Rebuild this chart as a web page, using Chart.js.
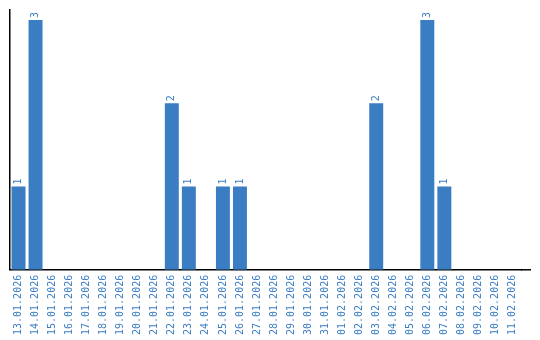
<!DOCTYPE html>
<html>
<head>
<meta charset="utf-8">
<script src="https://cdn.jsdelivr.net/npm/chart.js@4.4.0/dist/chart.umd.min.js"></script>
<style>
  html, body { margin: 0; padding: 0; background: #fff; }
  #wrap { width: 540px; height: 340px; }
</style>
</head>
<body>
<div id="wrap"><canvas id="myChart" width="540" height="340"></canvas></div>
<script>
// days on the x axis
var days = ["13.01.2026","14.01.2026","15.01.2026","16.01.2026","17.01.2026","18.01.2026",
  "19.01.2026","20.01.2026","21.01.2026","22.01.2026","23.01.2026","24.01.2026","25.01.2026",
  "26.01.2026","27.01.2026","28.01.2026","29.01.2026","30.01.2026","31.01.2026","01.02.2026",
  "02.02.2026","03.02.2026","04.02.2026","05.02.2026","06.02.2026","07.02.2026","08.02.2026",
  "09.02.2026","10.02.2026","11.02.2026"];
// count per day
var counts = [1,3,0,0,0,0,0,0,0,2,1,0,1,1,0,0,0,0,0,0,0,2,0,0,3,1,0,0,0,0];

var blue = "#3b7dc3";
var monoFont = "'DejaVu Sans Mono'";

// value above each bar, rotated like the axis labels, plus the axis line running past the last day
var extras = {
  id: 'extras',
  afterDatasetsDraw: function(chart){
    var ctx = chart.ctx;
    var area = chart.chartArea;
    var meta = chart.getDatasetMeta(0);
    ctx.save();
    ctx.strokeStyle = '#000';
    ctx.lineWidth = 1.5;
    ctx.beginPath();
    ctx.moveTo(area.right, area.bottom);
    ctx.lineTo(531, area.bottom);
    ctx.stroke();

    ctx.fillStyle = blue;
    ctx.font = "10px " + monoFont;
    ctx.textAlign = "left";
    ctx.textBaseline = "middle";
    meta.data.forEach(function(bar, i){
      if (!counts[i]) return;
      ctx.save();
      ctx.translate(bar.x, bar.y - 2);
      ctx.rotate(-Math.PI / 2);
      ctx.fillText(String(counts[i]), 0, 0);
      ctx.restore();
    });
    ctx.restore();
  }
};

var ctx = document.getElementById('myChart').getContext('2d');
var myChart = new Chart(ctx, {
  type: 'bar',
  data: {
    labels: days,
    datasets: [{
      data: counts,
      backgroundColor: blue,
      barPercentage: 0.82,
      categoryPercentage: 1.0
    }]
  },
  options: {
    responsive: false,
    animation: false,
    layout: { padding: { left: 10, top: 10, right: 19, bottom: 0 } },
    plugins: { legend: { display: false }, tooltip: { enabled: false } },
    scales: {
      x: {
        grid: { display: false, drawTicks: false },
        border: { color: '#000', width: 1.5 },
        ticks: {
          color: blue,
          font: { family: 'DejaVu Sans Mono', size: 10 },
          minRotation: 90,
          maxRotation: 90,
          autoSkip: false,
          padding: 5
        }
      },
      y: {
        min: 0,
        max: 3.12,
        grid: { display: false, drawTicks: false },
        border: { color: '#000', width: 1.5 },
        ticks: { display: false }
      }
    }
  },
  plugins: [extras]
});
</script>
</body>
</html>
